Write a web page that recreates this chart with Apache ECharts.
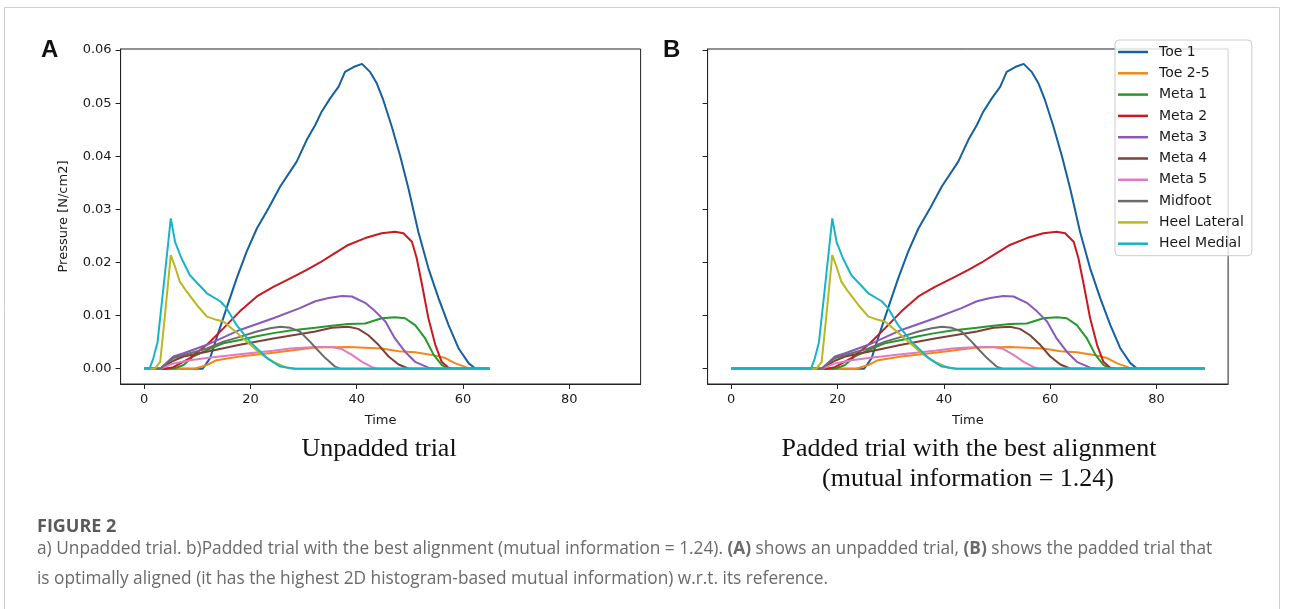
<!DOCTYPE html>
<html>
<head>
<meta charset="utf-8">
<script src="https://cdn.jsdelivr.net/npm/echarts@6/dist/echarts.min.js"></script>
<style>
  html, body { margin: 0; padding: 0; background: #fff; }
  #chart { width: 1290px; height: 609px; }
</style>
</head>
<body>
<div id="chart"></div>
<script>
// pressure curves of one trial (time, N/cm2)
var names = ['Toe 1', 'Toe 2-5', 'Meta 1', 'Meta 2', 'Meta 3', 'Meta 4', 'Meta 5', 'Midfoot', 'Heel Lateral', 'Heel Medial'];
var colors = ['#15609f', '#f3881a', '#24992a', '#c9181f', '#8859b8', '#7e4036', '#e07bc3', '#6b6b6b', '#b8b820', '#16b4c9'];

var toe1T = [0, 11, 12.4, 13.6, 15.5, 17.4, 19.3, 21.2, 23.4, 25.6, 28.7, 30.6, 32.2, 33.4, 35.0, 36.6, 37.8, 39.4, 41.0, 42.5, 43.8, 45.0, 46.6, 48.2, 49.8, 51.6, 53.5, 55.4, 57.3, 59.2, 61.1, 62.4, 65];
var toe1V = [0, 0, 0.002, 0.0057, 0.0114, 0.017, 0.0221, 0.0264, 0.0302, 0.0343, 0.039, 0.0431, 0.0459, 0.0484, 0.0509, 0.0531, 0.0559, 0.0568, 0.0574, 0.0559, 0.0537, 0.0506, 0.0456, 0.04, 0.0337, 0.0258, 0.0189, 0.0133, 0.0082, 0.0038, 0.001, 0, 0];

var toe25T = [0, 9.5, 11.8, 13.6, 18.0, 24.3, 32.2, 38.4, 44.7, 47.9, 51.0, 54.2, 56.7, 58.6, 60.8, 61.8, 65];
var toe25V = [0, 0, 0.0007, 0.0016, 0.0023, 0.003, 0.004, 0.0041, 0.0038, 0.0033, 0.0031, 0.0026, 0.002, 0.001, 0.0002, 0, 0];

var meta1T = [0, 5.5, 7.4, 9.2, 11.8, 14.9, 18.0, 21.2, 24.3, 27.5, 32.2, 35.3, 38.4, 41.6, 44.7, 47.2, 49.1, 51.0, 52.9, 54.5, 56.0, 57.2, 65];
var meta1V = [0, 0, 0.0007, 0.0023, 0.0035, 0.0048, 0.0054, 0.0061, 0.0067, 0.0072, 0.0077, 0.0081, 0.0084, 0.0085, 0.0095, 0.0097, 0.0095, 0.0082, 0.0057, 0.0026, 0.0007, 0, 0];

var meta2T = [0, 4, 5.5, 8.6, 11.8, 14.9, 18.0, 21.2, 24.3, 27.5, 30.6, 33.1, 35.3, 38.4, 41.6, 44.7, 47.2, 48.8, 50.4, 51.3, 52.3, 53.5, 54.8, 56.0, 57.3, 58.2, 65];
var meta2V = [0, 0, 0.0003, 0.002, 0.0045, 0.0076, 0.0108, 0.0136, 0.0154, 0.017, 0.0186, 0.02, 0.0214, 0.0233, 0.0246, 0.0255, 0.0258, 0.0255, 0.0239, 0.0208, 0.0158, 0.0095, 0.0045, 0.0013, 0.0002, 0, 0];

var meta3T = [0, 3, 5.5, 7.4, 11.8, 18.0, 24.3, 29.3, 32.2, 34.7, 37.2, 39.1, 41.6, 43.5, 45.4, 47.2, 49.1, 51.0, 53.5, 55, 65];
var meta3V = [0, 0, 0.0023, 0.0029, 0.0045, 0.0073, 0.0095, 0.0114, 0.0127, 0.0133, 0.0137, 0.0136, 0.0124, 0.0108, 0.0089, 0.0057, 0.0032, 0.0013, 0.0002, 0, 0];

var meta4T = [0, 3, 5.5, 7.4, 11.8, 18.0, 24.3, 32.2, 35.3, 38.4, 40.3, 42.2, 44.1, 46.0, 47.9, 49.8, 65];
var meta4V = [0, 0, 0.0015, 0.0023, 0.0032, 0.0045, 0.0057, 0.007, 0.0077, 0.0079, 0.0075, 0.0063, 0.0045, 0.0023, 0.0008, 0, 0];

var meta5T = [0, 3, 5.5, 8.6, 11.8, 18.0, 24.3, 27.5, 32.2, 35.3, 37.2, 39.1, 41.0, 42.9, 44, 65];
var meta5V = [0, 0, 0.001, 0.0016, 0.002, 0.0027, 0.0034, 0.0038, 0.0041, 0.0041, 0.0037, 0.0026, 0.0013, 0.0003, 0, 0];

var midT = [0, 3, 5.5, 8.6, 11.8, 14.9, 18.0, 21.2, 23.7, 25.6, 27.5, 29.3, 31.2, 32.2, 34.1, 35.9, 37, 65];
var midV = [0, 0, 0.002, 0.0029, 0.0038, 0.0051, 0.006, 0.007, 0.0076, 0.0079, 0.0077, 0.007, 0.0051, 0.004, 0.002, 0.0004, 0, 0];

var heelLatT = [0, 2, 3.0, 3.9, 5.0, 5.8, 6.7, 8.0, 9.9, 11.8, 13.6, 14.9, 16.8, 19.3, 21.8, 24.3, 26.8, 28, 65];
var heelLatV = [0, 0, 0.0013, 0.0101, 0.0214, 0.0192, 0.0164, 0.0145, 0.012, 0.0098, 0.0092, 0.0089, 0.0073, 0.0051, 0.0029, 0.0013, 0.0002, 0, 0];

var heelMedT = [0, 1, 1.7, 2.5, 3.6, 5.0, 5.8, 7.0, 8.6, 11.8, 14.3, 15.5, 17.4, 19.9, 23.1, 25.6, 28.5, 65];
var heelMedV = [0, 0, 0.0019, 0.005, 0.0151, 0.0283, 0.0239, 0.0208, 0.0176, 0.0142, 0.0127, 0.0114, 0.0082, 0.0051, 0.002, 0.0004, 0, 0];

// padded trial: 14 zero samples in front, total length 90
var padShift = 14;
var padEnd = 89;

var timeTicks = [0, 20, 40, 60, 80];
var pressureTicks = [0, 0.01, 0.02, 0.03, 0.04, 0.05, 0.06];

var curvesT = [toe1T, toe25T, meta1T, meta2T, meta3T, meta4T, meta5T, midT, heelLatT, heelMedT];
var curvesV = [toe1V, toe25V, meta1V, meta2V, meta3V, meta4V, meta5V, midV, heelLatV, heelMedV];

function pairs(ts, vs, shift) {
  var out = [];
  for (var i = 0; i < ts.length; i++) out.push([ts[i] + shift, vs[i]]);
  return out;
}

var series = [];
for (var p = 0; p < 2; p++) {
  for (var k = 0; k < names.length; k++) {
    var d = pairs(curvesT[k], curvesV[k], p ? padShift : 0);
    if (p) { d.unshift([0, 0]); d.push([padEnd, 0]); }
    series.push({
      name: names[k], type: 'line', xAxisIndex: p, yAxisIndex: p,
      data: d, symbol: 'none', color: colors[k],
      lineStyle: { width: 2, color: colors[k] },
      emphasis: { disabled: true }
    });
  }
}

var tickFont = { color: '#1a1a1a', fontSize: 13, fontFamily: 'DejaVu Sans' };

function xAx(i) {
  return {
    type: 'value', gridIndex: i, min: -4.45, max: 93.45,
    name: 'Time', nameLocation: 'middle', nameGap: 30,
    nameTextStyle: tickFont,
    splitLine: { show: false },
    axisLine: { show: true, onZero: false, lineStyle: { color: '#222' } },
    axisTick: { customValues: timeTicks, length: 5, lineStyle: { color: '#222' } },
    axisLabel: Object.assign({ customValues: timeTicks, margin: 9 }, tickFont)
  };
}
function yAx(i) {
  return {
    type: 'value', gridIndex: i, min: -0.00288, max: 0.0602,
    name: i ? '' : 'Pressure [N/cm2]', nameLocation: 'middle', nameGap: 50,
    nameTextStyle: tickFont,
    splitLine: { show: false },
    axisLine: { show: true, onZero: false, lineStyle: { color: '#222' } },
    axisTick: { customValues: pressureTicks, length: 5, lineStyle: { color: '#222' } },
    axisLabel: Object.assign({
      show: !i, customValues: pressureTicks, margin: 9,
      formatter: function (v) { return v.toFixed(2); }
    }, tickFont)
  };
}

var chart = echarts.init(document.getElementById('chart'));
chart.setOption({
  animation: false,
  backgroundColor: '#fff',
  grid: [
    { left: 120.6, top: 49, width: 520, height: 335, show: true, borderColor: '#222', borderWidth: 1 },
    { left: 707.6, top: 49, width: 520.5, height: 335, show: true, borderColor: '#222', borderWidth: 1 }
  ],
  xAxis: [xAx(0), xAx(1)],
  yAxis: [yAx(0), yAx(1)],
  legend: {
    data: names, orient: 'vertical', left: 1115, top: 40,
    icon: 'rect', itemWidth: 30, itemHeight: 2.5, itemGap: 7.3,
    padding: [5, 8, 5, 3],
    backgroundColor: 'rgba(255,255,255,0.8)', borderColor: '#ccc', borderWidth: 1, borderRadius: 4,
    textStyle: { color: '#1a1a1a', fontSize: 14, lineHeight: 14, fontFamily: 'DejaVu Sans', padding: [0, 0, 0, 6] },
    selectedMode: false
  },
  series: series,
  graphic: [
    { type: 'rect', shape: { x: 4.5, y: 7.5, width: 1275, height: 700 }, style: { fill: 'none', stroke: '#cfcfcf', lineWidth: 1 }, silent: true },
    { type: 'text', x: 41, y: 50, style: { text: 'A', font: 'bold 24px "Liberation Sans"', fill: '#111', textVerticalAlign: 'middle' } },
    { type: 'text', x: 663, y: 50, style: { text: 'B', font: 'bold 24px "Liberation Sans"', fill: '#111', textVerticalAlign: 'middle' } },
    { type: 'text', x: 379, y: 449, style: { text: 'Unpadded trial', font: '26px "Liberation Serif"', fill: '#111', textAlign: 'center', textVerticalAlign: 'middle' } },
    { type: 'text', x: 969, y: 449, style: { text: 'Padded trial with the best alignment', font: '26px "Liberation Serif"', fill: '#111', textAlign: 'center', textVerticalAlign: 'middle' } },
    { type: 'text', x: 968, y: 479, style: { text: '(mutual information = 1.24)', font: '26px "Liberation Serif"', fill: '#111', textAlign: 'center', textVerticalAlign: 'middle' } },
    { type: 'text', x: 37, y: 527, style: { text: 'FIGURE 2', font: 'bold 18px "Open Sans"', fill: '#5a5a5a', textVerticalAlign: 'middle' } },
    { type: 'text', x: 37, y: 549, style: {
      text: '{n|a) Unpadded trial. b)Padded trial with the best alignment (mutual information = 1.24). }{b|(A)}{n| shows an unpadded trial, }{b|(B)}{n| shows the padded trial that}',
      textVerticalAlign: 'middle',
      rich: { n: { font: '17.3px "Open Sans"', fill: '#6a6a6a' }, b: { font: 'bold 17.3px "Open Sans"', fill: '#6a6a6a' } }
    } },
    { type: 'text', x: 37, y: 579, style: { text: 'is optimally aligned (it has the highest 2D histogram-based mutual information) w.r.t. its reference.', font: '17.3px "Open Sans"', fill: '#6a6a6a', textVerticalAlign: 'middle' } }
  ]
});
</script>
</body>
</html>
